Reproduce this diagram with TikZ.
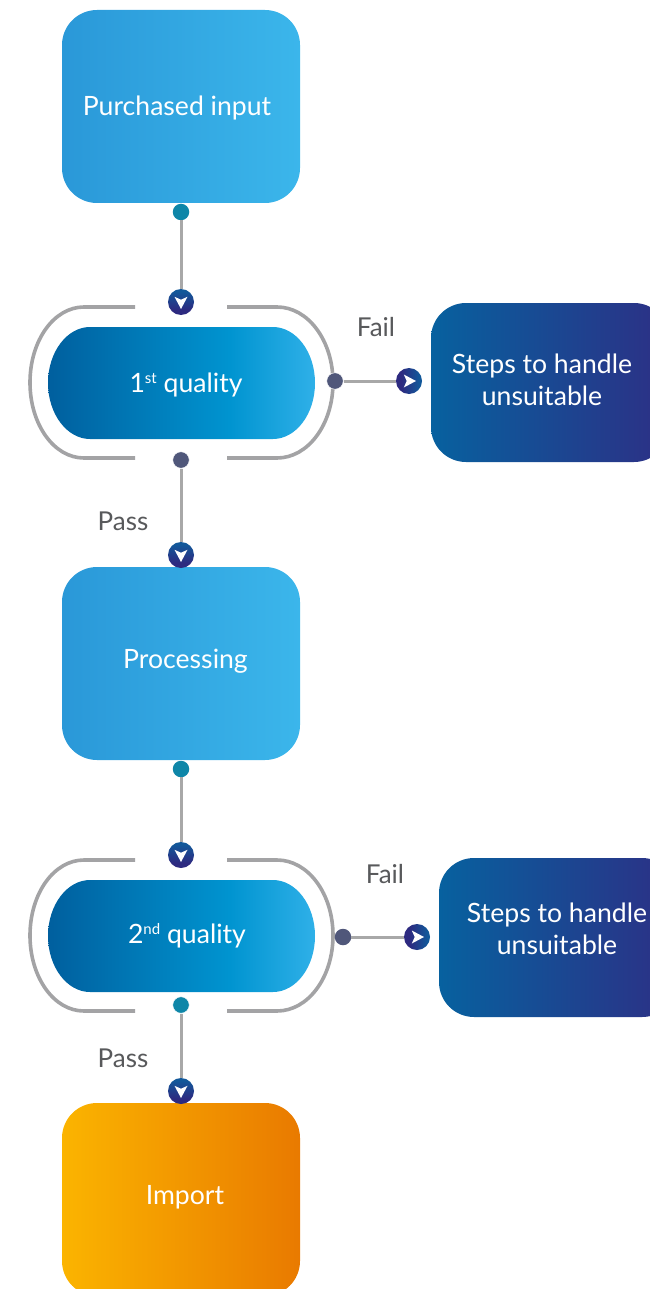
\documentclass[tikz,border=0pt]{standalone}
\usepackage{fontspec}
\setmainfont{Lato}
\definecolor{boxL}{HTML}{2A98D8}
\definecolor{boxR}{HTML}{3BB6EB}
\definecolor{stadL}{HTML}{005F9E}
\definecolor{stadM}{HTML}{0094D0}
\definecolor{stadR}{HTML}{2FB0E8}
\definecolor{darkL}{HTML}{07619F}
\definecolor{darkR}{HTML}{2D2F85}
\definecolor{orgL}{HTML}{FBB400}
\definecolor{orgR}{HTML}{E97A00}
\definecolor{tealdot}{HTML}{0E86A8}
\definecolor{slatedot}{HTML}{50577A}
\definecolor{conn}{HTML}{A8A8A8}
\definecolor{ring}{HTML}{A3A3A5}
\definecolor{lab}{HTML}{58595B}
\definecolor{arrT}{HTML}{12589A}
\definecolor{arrB}{HTML}{2D2A80}
\pgfdeclarehorizontalshading{stadshade}{100bp}{color(0bp)=(stadL);color(25bp)=(stadL);color(59bp)=(stadM);color(75bp)=(stadR);color(100bp)=(stadR)}
\pgfdeclareverticalshading{arrshadeV}{100bp}{color(0bp)=(arrB);color(35bp)=(arrB);color(70bp)=(arrT);color(100bp)=(arrT)}
\tikzset{
  rbox/.style={rectangle,rounded corners=35pt,minimum width=238pt,minimum height=193pt,inner sep=0pt},
  lightbox/.style={rbox,left color=boxL,right color=boxR},
  darkbox/.style={rbox,minimum height=159pt,left color=darkL,right color=darkR},
  orangebox/.style={rbox,left color=orgL,right color=orgR},
  stadium/.style={shading=stadshade},
  bracketline/.style={draw=ring,line width=3.6pt},
  inlabel/.style={text=white,font=\fontsize{26.6}{32}\selectfont,inner sep=0pt,align=center},
  flowlabel/.style={text=lab,font=\fontsize{26}{30}\selectfont,inner sep=0pt},
  conline/.style={draw=conn,line width=3pt},
  tdot/.style={circle,fill=tealdot,minimum size=16.5pt,inner sep=0pt},
  sdot/.style={circle,fill=slatedot,minimum size=16.5pt,inner sep=0pt},
  arrD/.style={circle,shading=arrshadeV,minimum size=26pt,inner sep=0pt},
  arrR/.style={circle,shading=arrshadeV,shading angle=-90,minimum size=26pt,inner sep=0pt},
  chev/.style={fill=white,draw=none}
}
\newcommand{\supr}[1]{\raisebox{8.5pt}{\fontsize{15}{15}\selectfont #1}}
\newcommand{\stadshape}[1]{%
  \shade[stadium] (90,#1-56) -- (273,#1-56)
    .. controls (296,#1-56) and (315,#1-31) .. (315,#1)
    .. controls (315,#1+31) and (296,#1+56) .. (273,#1+56)
    -- (90,#1+56)
    .. controls (67,#1+56) and (48,#1+31) .. (48,#1)
    .. controls (48,#1-31) and (67,#1-56) .. (90,#1-56) -- cycle;}
\newcommand{\brackets}[1]{%
  \draw[bracketline] (135,#1-75.5) -- (84,#1-75.5)
    .. controls (54,#1-75.5) and (30,#1-42) .. (30,#1)
    .. controls (30,#1+42) and (54,#1+75.5) .. (84,#1+75.5) -- (135,#1+75.5);
  \draw[bracketline] (227,#1-75.5) -- (277,#1-75.5)
    .. controls (308,#1-75.5) and (333,#1-42) .. (333,#1)
    .. controls (333,#1+42) and (308,#1+75.5) .. (277,#1+75.5) -- (227,#1+75.5);}
\newcommand{\chevD}[1]{\fill[chev,shift={(#1.center)}] (0,7) -- (-6.5,-5.2) -- (0,-2.3) -- (6.5,-5.2) -- cycle;}
\newcommand{\chevR}[1]{\fill[chev,shift={(#1.center)}] (7,0) -- (-5.2,-6.5) -- (-2.3,0) -- (-5.2,6.5) -- cycle;}
\begin{document}
\begin{tikzpicture}[x=1pt,y=-1pt]
\useasboundingbox (0,0) rectangle (649,1289);
% boxes
\node[lightbox] (input) at (181,106.5) {};
\node[inlabel] (inputT) at (177,107.5) {Purchased input};
\node[lightbox] (proc) at (181,663.5) {};
\node[inlabel] (procT) at (185.5,661.5) {Processing};
\node[orangebox] (imp) at (181,1199.5) {};
\node[inlabel] (impT) at (185,1197) {Import};
\node[darkbox] (fail1) at (550,382.5) {};
\node[inlabel] (fail1T) at (542,379.5) {Steps to handle\\unsuitable};
\node[darkbox] (fail2) at (558,937.5) {};
\node[inlabel] (fail2T) at (557,928.5) {Steps to handle\\unsuitable};
% quality
\brackets{382.5}
\stadshape{383}
\node[inlabel] (q1) at (186,384.5) {1\supr{st} quality};
\brackets{935.5}
\stadshape{936}
\node[inlabel] (q2) at (187,935.5) {2\supr{nd} quality};
% dots and arrows
\node[tdot] (d1) at (181,212) {};
\node[arrD] (a1) at (181,302) {};
\node[sdot,draw=white,line width=.5pt] (d2) at (181,460) {};
\node[arrD] (a2) at (181,555) {};
\node[sdot,draw=white,line width=.5pt] (d3) at (335,381) {};
\node[arrR] (a3) at (409,381) {};
\node[tdot] (d4) at (181,769) {};
\node[arrD] (a4) at (181,855) {};
\node[tdot,draw=white,line width=.5pt] (d5) at (181,1005) {};
\node[arrD] (a5) at (181,1091) {};
\node[sdot] (d6) at (343,937) {};
\node[arrR] (a6) at (417,937) {};
\chevD{a1}\chevD{a2}\chevD{a4}\chevD{a5}
\chevR{a3}\chevR{a6}
% connectors
\draw[conline] (d1) -- (a1);
\draw[conline] (d2) -- (a2);
\draw[conline] (d3) -- (a3);
\draw[conline] (d4) -- (a4);
\draw[conline] (d5) -- (a5);
\draw[conline] (d6) -- (a6);
% labels
\node[flowlabel] (f1) at (376,327.5) {Fail};
\node[flowlabel] (p1) at (123,521) {Pass};
\node[flowlabel] (f2) at (385,874.5) {Fail};
\node[flowlabel] (p2) at (123,1058) {Pass};
\end{tikzpicture}
\end{document}
